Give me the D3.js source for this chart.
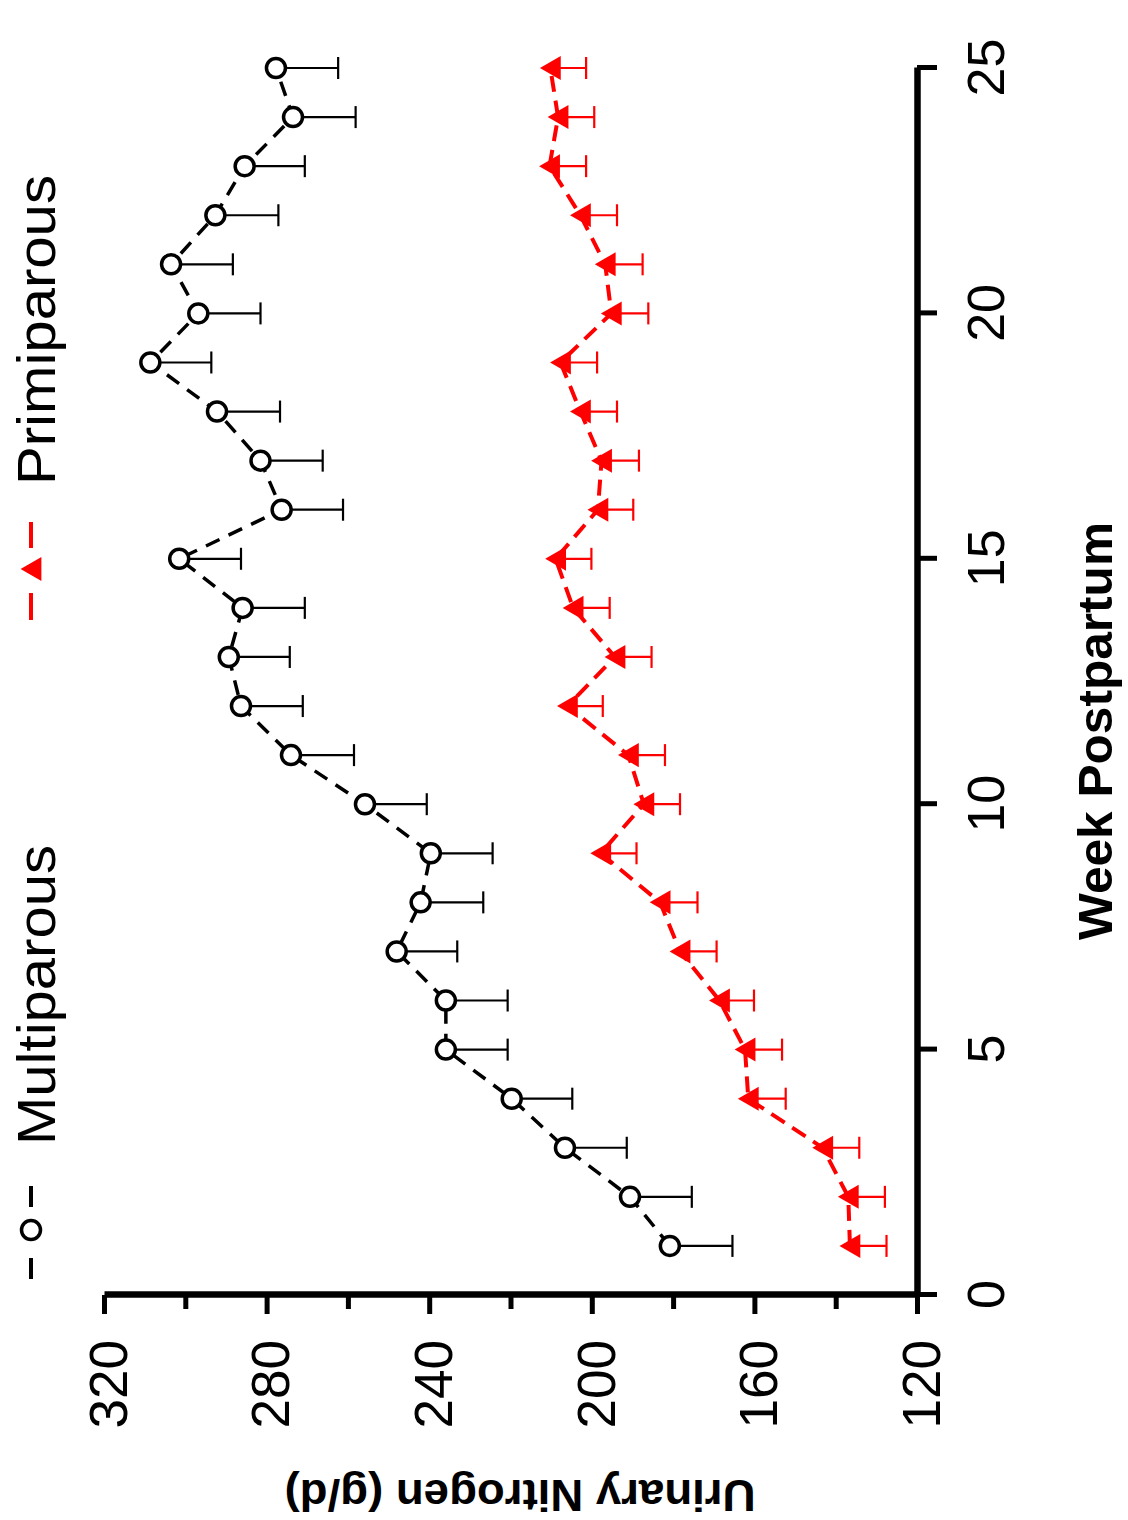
<!DOCTYPE html>
<html>
<head>
<meta charset="utf-8">
<script src="https://cdn.jsdelivr.net/npm/d3@7"></script>
<style>
  body { margin: 0; background: #fff; }
  svg { display: block; }
  text { font-family: "Liberation Sans", Arial, sans-serif; fill: #000; }
</style>
</head>
<body>
<script>
// Data // ----------------------------------------------------------------------
var weeks = [1,2,3,4,5,6,7,8,9,10,11,12,13,14,15,16,17,18,19,20,21,22,23,24,25];

var multiparous   = [180.8,190.6,206.6,219.7,235.9,235.9,248.0,242.1,239.6,255.8,274.0,286.3,289.3,
                     285.9,301.5,276.3,281.5,292.2,308.6,296.8,303.5,292.6,285.4,273.5,277.7];
var multiparousSE = [15.4,15.2,15.2,14.9,15.2,15.2,14.9,15.4,15.2,15.2,15.5,15.2,15.0,
                     15.3,15.2,15.1,15.3,15.5,15.0,15.3,15.2,15.5,14.8,15.4,15.3];

var primiparous   = [136.5,136.9,143.2,161.5,162.3,168.6,178.3,183.2,197.8,187.2,191.0,206.0,194.3,
                     204.6,208.9,198.5,197.6,202.8,207.7,195.2,196.7,202.8,210.4,208.3,210.2];
var primiparousSE = [9.0,9.0,9.0,9.2,9.1,8.5,9.0,9.2,8.8,8.9,9.0,8.7,9.0,
                     9.0,8.8,8.7,9.2,9.0,9.0,9.1,9.2,9.0,9.0,8.9,8.8];

var xTicks = [0,5,10,15,20,25];
var yTicks = [120,160,200,240,280,320];
var yMinorTicks = [140,180,220,260,300];
var legendLabels = ["Multiparous","Primiparous"];

// Setup // ---------------------------------------------------------------------
var W = 1128, H = 1520;

// the whole chart is drawn normally, then turned a quarter turn counter-clockwise
var x = d3.scaleLinear().domain([0,25]).range([225,1452]),
    y = d3.scaleLinear().domain([120,320]).range([917,104]);

var svg = d3.select("body").append("svg")
            .attr("width", W)
            .attr("height", H);

svg.append("rect").attr("width", W).attr("height", H).attr("fill", "#fff");

var g = svg.append("g")
           .attr("transform", "translate(0," + H + ") rotate(-90)");

function rows(vals, se) {
  return weeks.map(function(w, i){ return {week: w, value: vals[i], se: se[i]}; });
}
var multi = rows(multiparous, multiparousSE),
    primi = rows(primiparous, primiparousSE);

// Axes // ----------------------------------------------------------------------
var xAxis = g.append("g")
   .attr("transform", "translate(0," + y(120) + ")")
   .call(d3.axisBottom(x).tickValues(xTicks).tickSize(20).tickPadding(30).tickSizeOuter(0));
xAxis.select(".domain").attr("stroke-width", 6.5);
xAxis.selectAll(".tick line").attr("stroke-width", 5);
xAxis.selectAll(".tick text").attr("font-size", 52);

var yAxis = g.append("g")
   .attr("transform", "translate(" + x(0) + ",0)")
   .call(d3.axisLeft(y).tickValues(yTicks).tickSize(19).tickPadding(26).tickSizeOuter(0));
yAxis.select(".domain").attr("stroke-width", 6.5);
yAxis.selectAll(".tick line").attr("stroke-width", 5);
yAxis.selectAll(".tick text").attr("font-size", 53).attr("dy", "0.42em");

var yMinor = g.append("g")
   .attr("transform", "translate(" + x(0) + ",0)")
   .call(d3.axisLeft(y).tickValues(yMinorTicks).tickSize(14).tickFormat(""));
yMinor.select(".domain").remove();
yMinor.selectAll(".tick line").attr("stroke-width", 5);

// axis titles
g.append("text")
 .attr("x", 789).attr("y", 1112)
 .attr("text-anchor", "middle")
 .attr("font-size", 49).attr("font-weight", "bold")
 .attr("textLength", 418).attr("lengthAdjust", "spacingAndGlyphs")
 .text("Week Postpartum");

g.append("text")
 .attr("transform", "rotate(-90)")
 .attr("x", -520).attr("y", 40)
 .attr("text-anchor", "middle")
 .attr("font-size", 45).attr("font-weight", "bold")
 .attr("textLength", 471).attr("lengthAdjust", "spacingAndGlyphs")
 .text("Urinary Nitrogen (g/d)");

// Series // --------------------------------------------------------------------
var valueLine = d3.line()
                  .x(function(d){ return x(d.week); })
                  .y(function(d){ return y(d.value); });

function errorBars(data, color) {
  var eb = g.append("g").attr("stroke", color).attr("stroke-width", 2.2);
  eb.selectAll(".stem").data(data).enter().append("line")
    .attr("x1", function(d){ return x(d.week); })
    .attr("x2", function(d){ return x(d.week); })
    .attr("y1", function(d){ return y(d.value); })
    .attr("y2", function(d){ return y(d.value - d.se); });
  eb.selectAll(".cap").data(data).enter().append("line")
    .attr("x1", function(d){ return x(d.week) - 11; })
    .attr("x2", function(d){ return x(d.week) + 11; })
    .attr("y1", function(d){ return y(d.value - d.se); })
    .attr("y2", function(d){ return y(d.value - d.se); });
}

// primiparous (red, filled triangles)
g.append("path").datum(primi)
 .attr("fill", "none").attr("stroke", "#ff0000")
 .attr("stroke-width", 4).attr("stroke-dasharray", "16,9")
 .attr("d", valueLine);
errorBars(primi, "#ff0000");

var triSize = 250,
    triShift = Math.sqrt(triSize / (3 * Math.sqrt(3))) / 2; // centre the triangle box on the point
var tri = d3.symbol().type(d3.symbolTriangle).size(triSize);
g.selectAll(".tri").data(primi).enter().append("path")
 .attr("d", tri)
 .attr("fill", "#ff0000")
 .attr("transform", function(d){ return "translate(" + x(d.week) + "," + (y(d.value) + triShift) + ")"; });

// multiparous (black, open circles)
g.append("path").datum(multi)
 .attr("fill", "none").attr("stroke", "#000")
 .attr("stroke-width", 3.5).attr("stroke-dasharray", "15,10")
 .attr("d", valueLine);
errorBars(multi, "#000");

g.selectAll(".dot").data(multi).enter().append("circle")
 .attr("cx", function(d){ return x(d.week); })
 .attr("cy", function(d){ return y(d.value); })
 .attr("r", 9.5)
 .attr("fill", "#fff").attr("stroke", "#000").attr("stroke-width", 3.5);

// Legend // --------------------------------------------------------------------
var lg1 = g.append("g").attr("transform", "translate(290,31)");
lg1.append("line").attr("x1", -49).attr("x2", -28).attr("stroke", "#000").attr("stroke-width", 4);
lg1.append("line").attr("x1", 23).attr("x2", 44).attr("stroke", "#000").attr("stroke-width", 4);
lg1.append("circle").attr("r", 9.5).attr("fill", "#fff").attr("stroke", "#000").attr("stroke-width", 3.5);
g.append("text").attr("x", 375).attr("y", 55)
 .attr("font-size", 54).attr("textLength", 300).attr("lengthAdjust", "spacingAndGlyphs")
 .text(legendLabels[0]);

var lg2 = g.append("g").attr("transform", "translate(951,31)");
lg2.append("line").attr("x1", -51).attr("x2", -24).attr("stroke", "#ff0000").attr("stroke-width", 4);
lg2.append("line").attr("x1", 21).attr("x2", 47).attr("stroke", "#ff0000").attr("stroke-width", 4);
lg2.append("path").attr("d", tri).attr("fill", "#ff0000")
   .attr("transform", "translate(0," + triShift + ")");
g.append("text").attr("x", 1035).attr("y", 55)
 .attr("font-size", 54).attr("textLength", 310).attr("lengthAdjust", "spacingAndGlyphs")
 .text(legendLabels[1]);
</script>
</body>
</html>
